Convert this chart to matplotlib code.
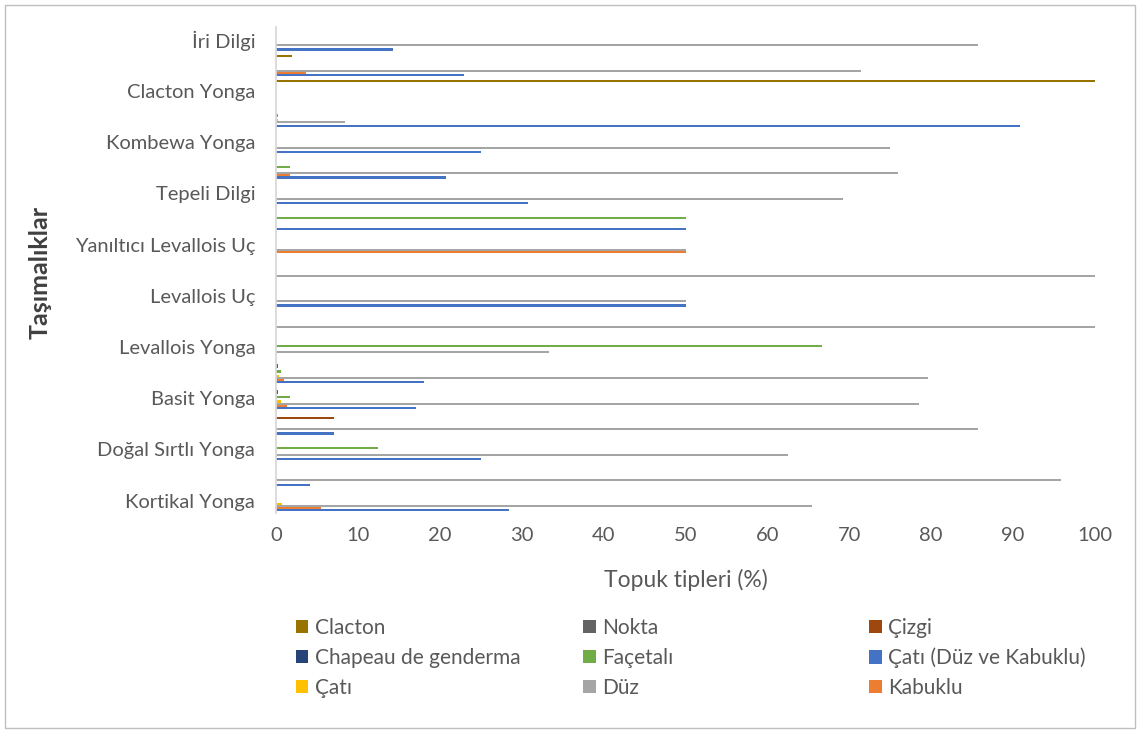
import matplotlib
matplotlib.use("Agg")
import matplotlib.pyplot as plt
from matplotlib.patches import Patch, Rectangle

plt.rcParams['font.family'] = ['Lato', 'DejaVu Sans']

# rows top -> bottom; Excel only shows every other category label
etiketler = ['İri Dilgi', 'Clacton Yonga', 'Kombewa Yonga', 'Tepeli Dilgi',
             'Yanıltıcı Levallois Uç', 'Levallois Uç', 'Levallois Yonga',
             'Basit Yonga', 'Doğal Sırtlı Yonga', 'Kortikal Yonga']
n_satir = 19

clacton  = [0, 2.0, 100, 0, 0, 0, 0, 0, 0, 0, 0, 0, 0, 0, 0, 0, 0, 0, 0]
nokta    = [0, 0, 0, 0, 0, 0, 0, 0, 0, 0, 0, 0, 0, 0.2, 0.3, 0, 0, 0, 0]
cizgi    = [0, 0, 0, 0, 0, 0, 0, 0, 0, 0, 0, 0, 0, 0.3, 0.3, 7.1, 0, 0, 0]
chapeau  = [0, 0, 0, 0, 0, 0, 0, 0, 0, 0, 0, 0, 0, 0, 0, 0, 0, 0, 0]
facetali = [0, 0, 0, 0.3, 0, 1.7, 0, 50, 0, 0, 0, 0, 66.7, 0.6, 1.7, 0, 12.5, 0, 0]
cati     = [0, 0, 0, 0.3, 0, 0, 0, 0, 0, 0, 0, 0, 0, 0.4, 0.6, 0, 0, 0, 0.7]
duz      = [85.7, 71.4, 0, 8.4, 75.0, 75.9, 69.2, 0, 50, 100, 50, 100, 33.3,
            79.6, 78.5, 85.7, 62.5, 95.8, 65.4]
kabuklu  = [0, 3.7, 0, 0, 0, 1.7, 0, 0, 50, 0, 0, 0, 0, 1.0, 1.3, 0, 0, 0, 5.5]
cati_dvk = [14.3, 23.0, 0, 90.8, 25.0, 20.7, 30.8, 50, 0, 0, 50, 0, 0,
            18.1, 17.1, 7.1, 25.0, 4.2, 28.4]

# (name, values, colour, slot in group from top; slot 5 is an empty series)
seriler = [
    ('Clacton', clacton, '#997300', 0),
    ('Nokta', nokta, '#636363', 1),
    ('Çizgi', cizgi, '#9E480E', 2),
    ('Chapeau de genderma', chapeau, '#264478', 3),
    ('Façetalı', facetali, '#70AD47', 4),
    ('Çatı (Düz ve Kabuklu)', cati_dvk, '#4472C4', 9),
    ('Çatı', cati, '#FFC000', 6),
    ('Düz', duz, '#A5A5A5', 7),
    ('Kabuklu', kabuklu, '#ED7D31', 8),
]

W, H = 1140, 732
fig = plt.figure(figsize=(W / 100, H / 100), dpi=100)
ax = fig.add_axes([276 / W, 1 - 513.4 / H, (1095 - 276) / W, (513.4 - 27) / H])

slot = 1 / (10 + 1.82)
rows = list(range(n_satir))
for ad, vals, renk, s in seriler:
    y = [r + (s - 4.5) * slot for r in rows]
    ax.barh(y, vals, height=slot, color=renk, linewidth=0)

ax.set_xlim(0, 100)
ax.set_ylim(n_satir - 0.5, -0.5)
ax.set_xticks(range(0, 101, 10))
ax.set_yticks(rows[::2])
ax.set_yticklabels(etiketler)
ax.tick_params(axis='both', length=0, colors='#595959', labelsize=14.5)
ax.tick_params(axis='x', pad=10)
ax.tick_params(axis='y', pad=15)
for side in ['top', 'right', 'bottom']:
    ax.spines[side].set_visible(False)
ax.spines['left'].set_color('#D9D9D9')
ax.spines['left'].set_linewidth(1.3)

ax.set_xlabel('Topuk tipleri (%)', fontsize=16.5, color='#595959', labelpad=18)
fig.text(40 / W, 1 - 272 / H, 'Taşımalıklar', rotation=90, ha='center', va='center',
         fontsize=18, fontweight='bold', color='#404040')

# legend, laid out row by row like Excel
kolon_x = [296, 583, 869]
for k in range(3):
    hs = []
    for j in range(3):
        ad, vals, renk, s = seriler[j * 3 + k]
        hs.append(Patch(facecolor=renk, edgecolor='none', label=ad))
    fig.legend(handles=hs, loc='upper left', bbox_to_anchor=(kolon_x[k] / W, 1 - 618 / H),
               frameon=False, fontsize=15, handlelength=0.6, handleheight=0.6,
               handletextpad=0.3, labelspacing=0.47, borderaxespad=0, borderpad=0,
               labelcolor='#595959')

fig.patches.append(Rectangle((5 / W, 4 / H), 1130 / W, 723 / H, transform=fig.transFigure,
                             fill=False, edgecolor='#BFBFBF', linewidth=1))

fig.savefig('out.png', dpi=100)
